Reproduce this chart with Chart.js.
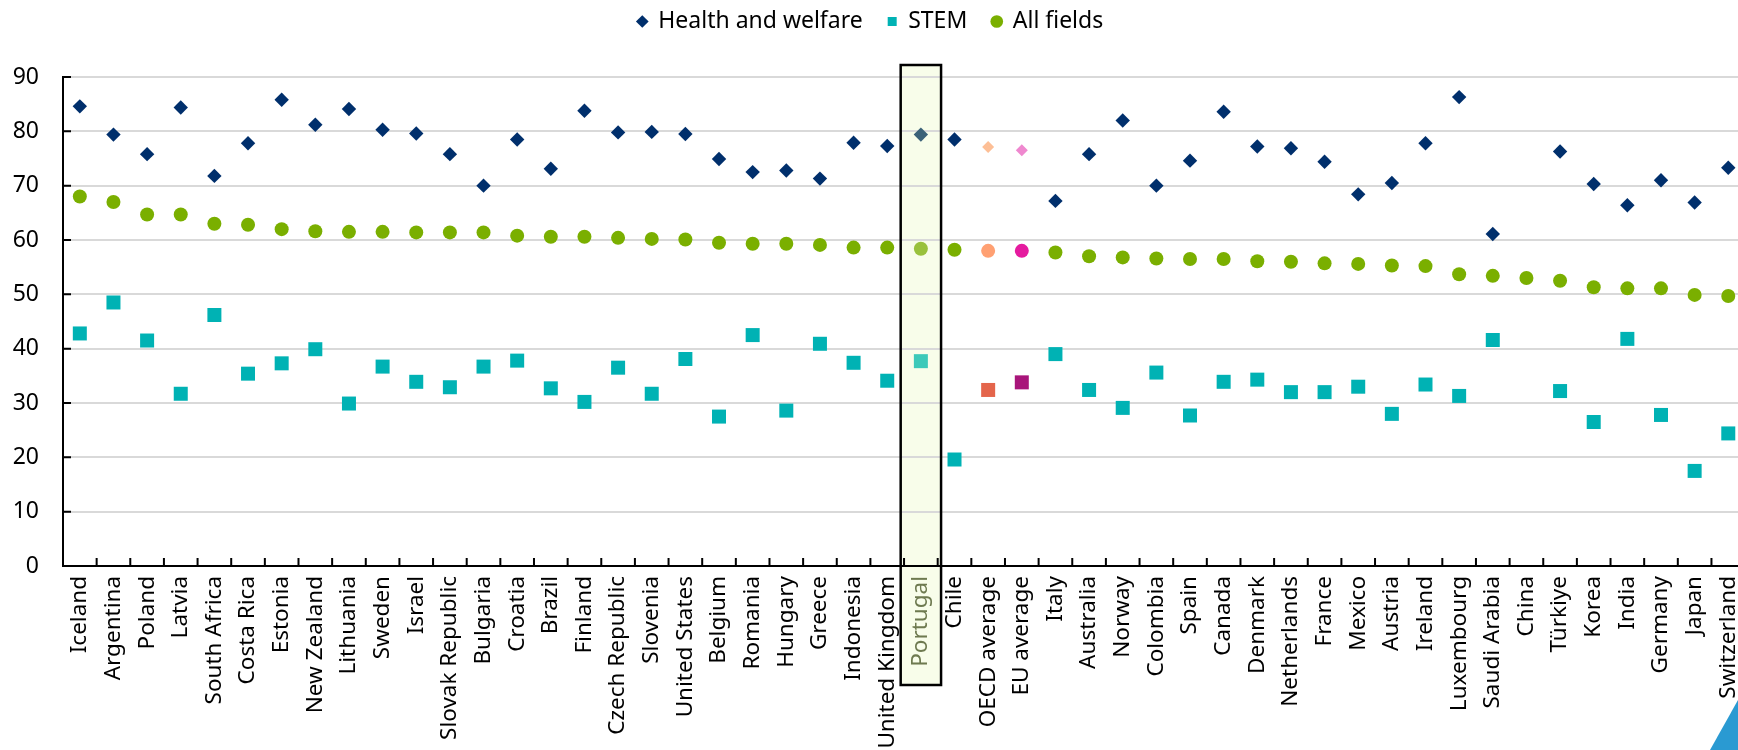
<!DOCTYPE html>
<html>
<head>
<meta charset="utf-8">
<title>Share of graduates by field</title>
<script src="https://cdn.jsdelivr.net/npm/chart.js@4.4.1/dist/chart.umd.min.js"></script>
<style>
  html, body { margin: 0; padding: 0; background: #fff; overflow: hidden; }
  #wrap { position: relative; width: 1755px; height: 750px; }
  #corner {
    position: absolute; left: 1710px; top: 700px; width: 28px; height: 50px;
    background: #2a9ad2; clip-path: polygon(0 100%, 100% 0, 100% 100%);
  }
</style>
</head>
<body>
<div id="wrap">
  <canvas id="chart"></canvas>
  <div id="corner"></div>
</div>
<script>
// categories, left to right
const labels = [
  'Iceland', 'Argentina', 'Poland', 'Latvia', 'South Africa', 'Costa Rica', 'Estonia',
  'New Zealand', 'Lithuania', 'Sweden', 'Israel', 'Slovak Republic', 'Bulgaria', 'Croatia',
  'Brazil', 'Finland', 'Czech Republic', 'Slovenia', 'United States', 'Belgium', 'Romania',
  'Hungary', 'Greece', 'Indonesia', 'United Kingdom', 'Portugal', 'Chile', 'OECD average',
  'EU average', 'Italy', 'Australia', 'Norway', 'Colombia', 'Spain', 'Canada', 'Denmark',
  'Netherlands', 'France', 'Mexico', 'Austria', 'Ireland', 'Luxembourg', 'Saudi Arabia',
  'China', 'Türkiye', 'Korea', 'India', 'Germany', 'Japan', 'Switzerland'
];

const healthWelfare = [
  84.6, 79.4, 75.8, 84.4, 71.8, 77.8, 85.8, 81.2, 84.1, 80.3, 79.6, 75.8, 70.0, 78.5,
  73.1, 83.8, 79.8, 79.9, 79.5, 74.9, 72.5, 72.8, 71.3, 77.9, 77.3, 79.4, 78.5, 77.1,
  76.5, 67.2, 75.8, 82.0, 70.0, 74.6, 83.6, 77.2, 76.9, 74.4, 68.4, 70.5, 77.8, 86.3,
  61.1, null, 76.3, 70.3, 66.4, 71.0, 66.9, 73.3
];

const stem = [
  42.8, 48.5, 41.5, 31.7, 46.2, 35.4, 37.3, 39.9, 29.9, 36.7, 33.9, 32.9, 36.7, 37.8,
  32.7, 30.2, 36.5, 31.7, 38.1, 27.5, 42.5, 28.6, 40.9, 37.4, 34.1, 37.7, 19.6, 32.4,
  33.8, 39.0, 32.4, 29.1, 35.6, 27.7, 33.9, 34.3, 32.0, 32.0, 33.0, 28.0, 33.4, 31.3,
  41.6, null, 32.2, 26.5, 41.8, 27.8, 17.5, 24.4
];

const allFields = [
  68.0, 67.0, 64.7, 64.7, 63.0, 62.8, 62.0, 61.6, 61.5, 61.5, 61.4, 61.4, 61.4, 60.8,
  60.6, 60.6, 60.4, 60.2, 60.1, 59.5, 59.3, 59.3, 59.1, 58.6, 58.6, 58.4, 58.2, 58.0,
  58.0, 57.7, 57.0, 56.8, 56.6, 56.5, 56.5, 56.1, 56.0, 55.7, 55.6, 55.3, 55.2, 53.7,
  53.4, 53.0, 52.5, 51.3, 51.1, 51.1, 49.9, 49.7
];

const yTicks = [0, 10, 20, 30, 40, 50, 60, 70, 80, 90];

// special categories
const highlight = 'Portugal';
const oecd = 'OECD average';
const eu = 'EU average';

// colour per category: normal, Portugal, OECD, EU
const colorsFor = (normal, portugal, oecdCol, euCol) => labels.map(l =>
  l === highlight ? portugal : l === oecd ? oecdCol : l === eu ? euCol : normal);

const healthColors = colorsFor('#002f6c', '#3b6178', '#fdbf96', '#ef88cf');
const stemColors = colorsFor('#00b2b4', '#3cc9b9', '#e4654b', '#a8157a');
const allColors = colorsFor('#7aaf00', '#99c13c', '#ffa072', '#e51b9f');
const healthRadius = labels.map(l => (l === oecd || l === eu) ? 6 : 7.2);

// Portugal box and the small inside ticks on both axes
const boxFor = (chart) => {
  const { chartArea, scales: { x } } = chart;
  const step = x.getPixelForValue(1) - x.getPixelForValue(0);
  const cx = x.getPixelForValue(labels.indexOf(highlight));
  const top = chartArea.top - 12;
  const bottom = chartArea.bottom + 119;
  return { left: cx - step * 0.6, top, w: step * 1.2, h: bottom - top };
};

const decorations = {
  id: 'decorations',
  afterLayout(chart) {
    // legend sits at the very top, well above the plot
    const lg = chart.legend;
    const dy = -15 - lg.top;
    lg.top += dy;
    lg.bottom += dy;
    lg.left -= 7;
    lg.right -= 7;
  },
  beforeDraw(chart) {
    const b = boxFor(chart);
    const ctx = chart.ctx;
    ctx.save();
    ctx.fillStyle = '#f8fdea';
    ctx.fillRect(b.left, b.top, b.w, b.h);
    ctx.restore();
  },
  afterDraw(chart) {
    const { ctx, chartArea, scales: { x, y } } = chart;
    const b = boxFor(chart);
    const step = x.getPixelForValue(1) - x.getPixelForValue(0);
    ctx.save();
    ctx.strokeStyle = '#000';
    ctx.lineWidth = 2.5;
    ctx.strokeRect(b.left, b.top, b.w, b.h);

    ctx.lineWidth = 2;
    ctx.beginPath();
    for (let i = 1; i <= labels.length; i++) {
      const px = x.getPixelForValue(i) - step / 2;
      ctx.moveTo(px, chartArea.bottom);
      ctx.lineTo(px, chartArea.bottom - 8);
    }
    yTicks.forEach(v => {
      if (v === 0) return;
      const py = y.getPixelForValue(v);
      ctx.moveTo(chartArea.left, py);
      ctx.lineTo(chartArea.left + 8, py);
    });
    ctx.stroke();
    ctx.restore();
  }
};

Chart.defaults.font.family = "'Noto Sans', sans-serif";
Chart.defaults.color = '#000';

new Chart(document.getElementById('chart'), {
  type: 'line',
  data: {
    labels: labels,
    datasets: [
      {
        label: 'Health and welfare',
        data: healthWelfare,
        showLine: false,
        pointStyle: 'rectRot',
        pointRadius: healthRadius,
        pointBackgroundColor: healthColors,
        pointBorderWidth: 0,
        borderColor: '#002f6c'
      },
      {
        label: 'STEM',
        data: stem,
        showLine: false,
        pointStyle: 'rect',
        pointRadius: 9.9,
        pointBackgroundColor: stemColors,
        pointBorderWidth: 0,
        borderColor: '#00b2b4'
      },
      {
        label: 'All fields',
        data: allFields,
        showLine: false,
        pointStyle: 'circle',
        pointRadius: 7,
        pointBackgroundColor: allColors,
        pointBorderWidth: 0,
        borderColor: '#7aaf00'
      }
    ]
  },
  options: {
    responsive: true,
    maintainAspectRatio: false,
    animation: false,
    layout: { padding: 0 },
    plugins: {
      tooltip: { enabled: false },
      legend: {
        position: 'top',
        labels: {
          usePointStyle: true,
          boxWidth: 9,
          boxHeight: 9,
          padding: 25,
          color: '#000',
          font: { size: 23 }
        }
      }
    },
    scales: {
      x: {
        offset: true,
        grid: { display: false, drawTicks: false },
        border: { display: true, color: '#000', width: 2 },
        ticks: {
          autoSkip: false,
          minRotation: 90,
          maxRotation: 90,
          padding: 10,
          font: { size: 22.5 },
          color: labels.map(l => l === highlight ? '#6e7a50' : '#000')
        },
        afterFit(scale) {
          scale.height = 184;
          scale.paddingLeft = 0;
          scale.paddingRight = 0;
        }
      },
      y: {
        min: 0,
        max: 90,
        grid: { color: '#d9d9d9', lineWidth: 2, drawTicks: false },
        border: { display: true, color: '#000', width: 2 },
        ticks: {
          stepSize: 10,
          padding: 24,
          font: { size: 23 },
          color: '#000'
        },
        afterFit(scale) {
          scale.width = 63;
          scale.paddingTop = 77; // puts the 90 line where the reference has it
        }
      }
    }
  },
  plugins: [decorations]
});
</script>
</body>
</html>
